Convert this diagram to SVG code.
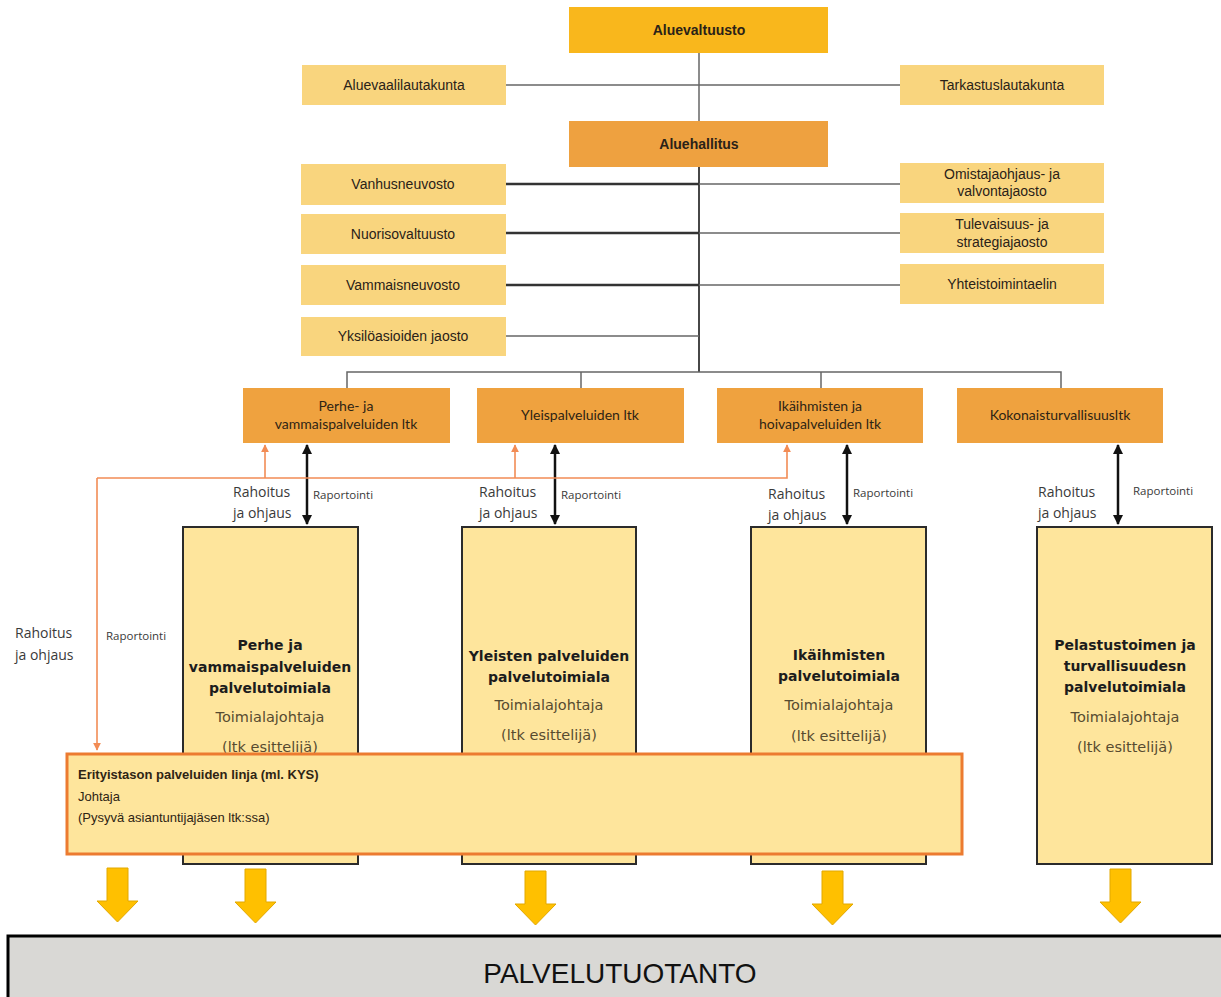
<svg xmlns="http://www.w3.org/2000/svg" width="1221" height="997" viewBox="0 0 1221 997">
<style>
.top{fill:#F9B71C}
.mid{fill:#EEA140}
.lt{fill:#F9D57E}
.ltk{fill:#EFA23F}
.unit{fill:#FEE59C;stroke:#2b2b2b;stroke-width:2}
.t{font-family:"Liberation Sans",Arial,sans-serif;font-size:14px;fill:#2a2218;text-anchor:middle}
.tb{font-family:"Liberation Sans",Arial,sans-serif;font-size:14px;font-weight:bold;fill:#2a2218;text-anchor:middle}
.l2{font-family:"Lato","Liberation Sans",sans-serif;font-size:14px;fill:#2e2414;text-anchor:middle}
.lab{font-family:"Open Sans","Liberation Sans",sans-serif;font-size:14px;fill:#3a3a3a}
.rap{font-family:"Open Sans","Liberation Sans",sans-serif;font-size:11.5px;fill:#3a3a3a}
.ub{font-family:"DejaVu Sans",Verdana,sans-serif;font-size:14px;font-weight:bold;fill:#1c1c1c;text-anchor:middle}
.ur{font-family:"DejaVu Sans",Verdana,sans-serif;font-size:14.5px;fill:#574b30;text-anchor:middle}
.et{font-family:"Liberation Sans",Arial,sans-serif;font-size:13px;fill:#2e2414}
.dark{stroke:#333;stroke-width:2.5;fill:none}
.gray{stroke:#666;stroke-width:1.5;fill:none}
.blk{stroke:#111;stroke-width:2.5;fill:none}
.org{stroke:#F28C55;stroke-width:1.6;fill:none}
.ya{fill:#FFC000;stroke:#E2A800;stroke-width:1}
</style>
<defs>
<marker id="ah" viewBox="0 0 10 10" refX="9" refY="5" markerWidth="4" markerHeight="4" orient="auto-start-reverse" markerUnits="strokeWidth">
<path d="M0,0 L10,5 L0,10 z" fill="#111"/>
</marker>
<marker id="oh" viewBox="0 0 10 10" refX="9" refY="5" markerWidth="5" markerHeight="5" orient="auto" markerUnits="strokeWidth">
<path d="M0,0 L10,5 L0,10 z" fill="#F28C55"/>
</marker>
</defs>

<g id="connectors">
<line class="gray" x1="699" y1="53" x2="699" y2="121"/>
<line class="gray" x1="506" y1="85" x2="900" y2="85"/>
<line class="dark" x1="699" y1="167" x2="699" y2="372" style="stroke-width:1.8"/>
<line class="dark" x1="506" y1="184" x2="699" y2="184"/>
<line class="dark" x1="506" y1="233" x2="699" y2="233"/>
<line class="dark" x1="506" y1="285" x2="699" y2="285"/>
<line class="gray" x1="506" y1="336" x2="699" y2="336"/>
<line class="gray" x1="699" y1="184" x2="900" y2="184"/>
<line class="gray" x1="699" y1="233" x2="900" y2="233"/>
<line class="gray" x1="699" y1="285" x2="900" y2="285"/>
<polyline class="gray" points="347,388 347,372 1061,372 1061,388"/>
<line class="gray" x1="581" y1="372" x2="581" y2="388"/>
<line class="gray" x1="821" y1="372" x2="821" y2="388"/>
<line class="blk" x1="307" y1="445" x2="307" y2="524" marker-start="url(#ah)" marker-end="url(#ah)"/>
<line class="blk" x1="555" y1="445" x2="555" y2="524" marker-start="url(#ah)" marker-end="url(#ah)"/>
<line class="blk" x1="847" y1="445" x2="847" y2="524" marker-start="url(#ah)" marker-end="url(#ah)"/>
<line class="blk" x1="1118" y1="445" x2="1118" y2="524" marker-start="url(#ah)" marker-end="url(#ah)"/>
<polyline class="org" points="97,478 787,478 787,445" marker-end="url(#oh)"/>
<line class="org" x1="265" y1="478" x2="265" y2="445" marker-end="url(#oh)"/>
<line class="org" x1="515" y1="478" x2="515" y2="445" marker-end="url(#oh)"/>
<line class="org" x1="97" y1="478" x2="97" y2="750" marker-end="url(#oh)"/>
<text class="lab" x="233" y="497">Rahoitus</text>
<text class="lab" x="233" y="518">ja ohjaus</text>
<text class="rap" x="313" y="499">Raportointi</text>
<text class="lab" x="479" y="497">Rahoitus</text>
<text class="lab" x="479" y="518">ja ohjaus</text>
<text class="rap" x="561" y="499">Raportointi</text>
<text class="lab" x="768" y="499">Rahoitus</text>
<text class="lab" x="768" y="520">ja ohjaus</text>
<text class="rap" x="853" y="497">Raportointi</text>
<text class="lab" x="1038" y="497">Rahoitus</text>
<text class="lab" x="1038" y="518">ja ohjaus</text>
<text class="rap" x="1133" y="495">Raportointi</text>
<text class="lab" x="15" y="638">Rahoitus</text>
<text class="lab" x="15" y="660">ja ohjaus</text>
<text class="rap" x="106" y="640">Raportointi</text>
</g>

<g id="aluevaltuusto"><rect class="top" x="569" y="7" width="259" height="46"/><text class="tb" x="699" y="35">Aluevaltuusto</text></g>
<g id="aluevaalilautakunta"><rect class="lt" x="302" y="65" width="204" height="40"/><text class="t" x="404" y="90">Aluevaalilautakunta</text></g>
<g id="tarkastuslautakunta"><rect class="lt" x="900" y="65" width="204" height="40"/><text class="t" x="1002" y="90">Tarkastuslautakunta</text></g>
<g id="aluehallitus"><rect class="mid" x="569" y="121" width="259" height="46"/><text class="tb" x="699" y="149">Aluehallitus</text></g>
<g id="vanhusneuvosto"><rect class="lt" x="301" y="164" width="205" height="41"/><text class="t" x="403" y="189">Vanhusneuvosto</text></g>
<g id="nuorisovaltuusto"><rect class="lt" x="301" y="214" width="205" height="40"/><text class="t" x="403" y="239">Nuorisovaltuusto</text></g>
<g id="vammaisneuvosto"><rect class="lt" x="301" y="265" width="205" height="40"/><text class="t" x="403" y="290">Vammaisneuvosto</text></g>
<g id="yksiloasioiden"><rect class="lt" x="301" y="317" width="205" height="39"/><text class="t" x="403" y="341">Yksilöasioiden jaosto</text></g>
<g id="omistajaohjaus"><rect class="lt" x="900" y="163" width="204" height="40"/><text class="t" x="1002" y="179">Omistajaohjaus- ja</text><text class="t" x="1002" y="196">valvontajaosto</text></g>
<g id="tulevaisuus"><rect class="lt" x="900" y="213" width="204" height="40"/><text class="t" x="1002" y="229">Tulevaisuus- ja</text><text class="t" x="1002" y="247">strategiajaosto</text></g>
<g id="yhteistoimintaelin"><rect class="lt" x="900" y="264" width="204" height="40"/><text class="t" x="1002" y="289">Yhteistoimintaelin</text></g>

<g id="perhe-ltk"><rect class="ltk" x="243" y="388" width="207" height="55"/><text class="l2" x="346" y="411">Perhe- ja</text><text class="l2" x="346" y="429">vammaispalveluiden ltk</text></g>
<g id="yleis-ltk"><rect class="ltk" x="477" y="388" width="207" height="55"/><text class="l2" x="580" y="420">Yleispalveluiden ltk</text></g>
<g id="ikaihmisten-ltk"><rect class="ltk" x="717" y="388" width="206" height="55"/><text class="l2" x="820" y="411">Ikäihmisten ja</text><text class="l2" x="820" y="429">hoivapalveluiden ltk</text></g>
<g id="kokonais-ltk"><rect class="ltk" x="957" y="388" width="206" height="55"/><text class="l2" x="1060" y="420">Kokonaisturvallisuusltk</text></g>

<g id="perhe-toimiala"><rect class="unit" x="183" y="527" width="175" height="337"/>
<text class="ub" x="270" y="650">Perhe ja</text><text class="ub" x="270" y="672">vammaispalveluiden</text><text class="ub" x="270" y="693">palvelutoimiala</text>
<text class="ur" x="270" y="722">Toimialajohtaja</text><text class="ur" x="270" y="752">(ltk esittelijä)</text></g>
<g id="yleisten-toimiala"><rect class="unit" x="462" y="527" width="174" height="337"/>
<text class="ub" x="549" y="661">Yleisten palveluiden</text><text class="ub" x="549" y="682">palvelutoimiala</text>
<text class="ur" x="549" y="710">Toimialajohtaja</text><text class="ur" x="549" y="740">(ltk esittelijä)</text></g>
<g id="ikaihmisten-toimiala"><rect class="unit" x="751" y="527" width="175" height="337"/>
<text class="ub" x="839" y="660">Ikäihmisten</text><text class="ub" x="839" y="681">palvelutoimiala</text>
<text class="ur" x="839" y="710">Toimialajohtaja</text><text class="ur" x="839" y="741">(ltk esittelijä)</text></g>
<g id="pelastus-toimiala"><rect class="unit" x="1037" y="527" width="175" height="337"/>
<text class="ub" x="1125" y="650">Pelastustoimen ja</text><text class="ub" x="1125" y="671">turvallisuudesn</text><text class="ub" x="1125" y="692">palvelutoimiala</text>
<text class="ur" x="1125" y="722">Toimialajohtaja</text><text class="ur" x="1125" y="752">(ltk esittelijä)</text></g>

<g id="erityistaso"><rect x="67" y="754" width="895" height="100" fill="#FEE59C" stroke="#EC7B30" stroke-width="3"/>
<text class="et" x="78" y="779" font-weight="bold">Erityistason palveluiden linja (ml. KYS)</text>
<text class="et" x="78" y="801">Johtaja</text>
<text class="et" x="78" y="822">(Pysyvä asiantuntijajäsen ltk:ssa)</text></g>

<g id="arrows">
<path class="ya" d="M107,868 h21 v33 h10 l-20.5,21 l-20.5,-21 h10 z"/>
<path class="ya" d="M245,869 h21 v33 h10 l-20.5,21 l-20.5,-21 h10 z"/>
<path class="ya" d="M525,871 h21 v33 h10 l-20.5,21 l-20.5,-21 h10 z"/>
<path class="ya" d="M822,871 h21 v33 h10 l-20.5,21 l-20.5,-21 h10 z"/>
<path class="ya" d="M1110,869 h21 v33 h10 l-20.5,21 l-20.5,-21 h10 z"/>
</g>

<g id="palvelutuotanto"><rect x="8" y="936" width="1220" height="70" fill="#D9D8D5" stroke="#000" stroke-width="3"/>
<text x="620" y="983" font-family="Liberation Sans, Arial, sans-serif" font-size="28" fill="#111" text-anchor="middle">PALVELUTUOTANTO</text></g>
</svg>
